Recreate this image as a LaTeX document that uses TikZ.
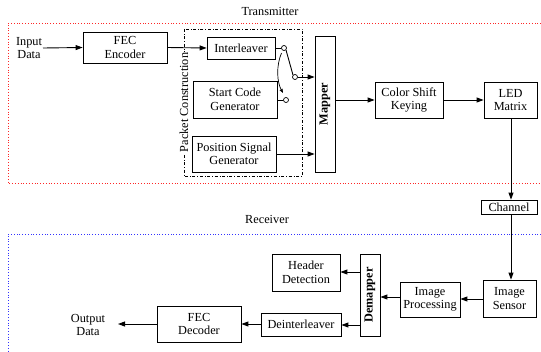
\documentclass[tikz,border=0pt]{standalone}
\usepackage{fontspec}
\setmainfont{Liberation Serif}
\usetikzlibrary{arrows.meta}
\begin{document}
\begin{tikzpicture}[x=1pt,y=-1pt,
  font=\fontsize{12.3}{13.5}\selectfont,
  box/.style={draw, line width=0.8pt, align=center, inner sep=0pt},
  bar/.style={draw, line width=0.8pt, inner sep=0pt},
  bartext/.style={rotate=90, inner sep=0pt, font=\fontsize{12.3}{13.5}\selectfont\bfseries},
  lbl/.style={align=center, inner sep=0pt},
  flow/.style={line width=0.9pt, -{Triangle[length=7pt,width=5pt]}},
  wire/.style={line width=0.9pt},
  sw/.style={circle, draw, line width=0.7pt, fill=white, inner sep=0pt, minimum size=5pt}]
\useasboundingbox (0,0) rectangle (541,351);

% transmitter and receiver regions
\draw[red!85, dotted, line width=0.8pt] (541,23) -- (8,23) -- (8,183) -- (541,183);
\node[lbl] (tx) at (270,11) {Transmitter};
\draw[blue!80, dotted, line width=0.8pt] (541,234) -- (8,234) -- (8,351);
\node[lbl] (rx) at (267,219) {Receiver};

% packet construction group
\draw[dash dot, line width=0.6pt] (184,29) rectangle (302,176);
\node[lbl, rotate=90, fill=white, inner sep=1pt] (pc) at (184,102.5) {Packet Construction};

% transmitter blocks
\node[lbl] (in) at (29,48) {Input\\Data};
\coordinate (inx) at (43,48);
\node[box, minimum width=84pt, minimum height=31pt] (fec) at (125,47.5) {FEC\\Encoder};
\node[box, minimum width=68pt, minimum height=22pt] (il) at (241,48) {Interleaver};
\node[box, minimum width=84pt, minimum height=37pt] (scg) at (235,99.5) {Start Code\\Generator};
\node[box, minimum width=84pt, minimum height=36pt] (psg) at (234,154) {Position Signal\\Generator};
\node[bar, minimum width=20pt, minimum height=136pt] (map) at (325,104) {};
\node[bartext] (maptxt) at (map.center) {Mapper};
\node[box, minimum width=68pt, minimum height=36pt] (csk) at (409,100) {Color Shift\\Keying};
\node[box, minimum width=53pt, minimum height=36pt] (led) at (510.5,100) {LED\\Matrix};
\node[box, minimum width=56pt, minimum height=14pt] (ch) at (509,207) {Channel};

% switch contacts
\node[sw] (s1) at (284,48) {};
\node[sw] (s2) at (295,77) {};
\node[sw] (s3) at (286,100) {};
\coordinate (cvA) at (281.5,53);
\coordinate (cvB) at (283,93);

% receiver blocks
\node[box, minimum width=53pt, minimum height=37pt] (is) at (509.5,298.5) {Image\\Sensor};
\node[box, minimum width=60pt, minimum height=35pt] (ip) at (430,299.5) {Image\\Processing};
\node[bar, minimum width=20pt, minimum height=82pt] (dm) at (370,295) {};
\node[bartext] (dmtxt) at (dm.center) {Demapper};
\node[box, minimum width=68pt, minimum height=37pt] (hd) at (306,272.5) {Header\\Detection};
\node[box, minimum width=80pt, minimum height=23pt] (di) at (301,324.5) {Deinterleaver};
\node[box, minimum width=84pt, minimum height=36pt] (fd) at (199,324) {FEC\\Decoder};
\node[lbl] (out) at (88,325) {Output\\Data};
\coordinate (outx) at (118,324);

% transmitter connections
\draw[flow] (inx) -- (fec.west);
\draw[flow] (fec.east) -- (il.west);
\draw[wire] (il.east) -- (s1.west);
\draw[wire] (s1.south east) -- (s2.north west);
\draw[flow] (s2.east) -- (map.west |- s2);
\draw[wire] (scg.east |- s3) -- (s3.west);
\draw[line width=0.7pt, -{Triangle[length=4pt,width=3pt]}] (cvA) .. controls (276,66) and (277,82) .. (cvB);
\draw[flow] (psg.east) -- (map.west |- psg.east);
\draw[flow] (map.east |- csk.west) -- (csk.west);
\draw[flow] (csk.east) -- (led.west);
\draw[flow] (led.south -| 511,0) -- (ch.north -| 511,0);

% receiver connections
\draw[flow] (ch.south -| 511,0) -- (is.north -| 511,0);
\draw[flow] (is.west |- 0,299) -- (ip.east |- 0,299);
\draw[flow] (ip.west |- 0,297) -- (dm.east |- 0,297);
\draw[flow] (dm.west |- 0,272) -- (hd.east |- 0,272);
\draw[flow] (dm.west |- 0,325) -- (di.east |- 0,325);
\draw[flow] (di.west |- 0,324) -- (fd.east |- 0,324);
\draw[flow] (fd.west) -- (outx);
\end{tikzpicture}
\end{document}
